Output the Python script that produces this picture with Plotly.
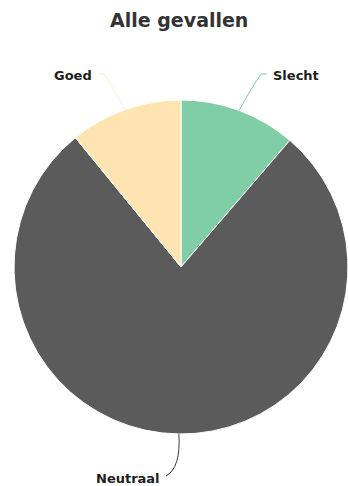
import math
import plotly.graph_objects as go

# Share of cases per outcome (percent), clockwise from 12 o'clock
labels = ["Slecht", "Neutraal", "Goed"]
values = [11.3, 77.8, 10.9]
colors = ["#7fcea5", "#5b5b5b", "#fde4b0"]

W, H = 348, 486
CX, CY, R = 181, 267, 167  # pie centre and radius in pixels

# Label placement (pixels): text anchor and the side the text sits on
label_pos = {
    "Slecht": (271, 75, "left"),
    "Neutraal": (162, 478, "right"),
    "Goed": (94, 75, "right"),
}


def px(x):
    return x / W


def py(y):
    return 1 - y / H


fig = go.Figure(
    go.Pie(
        labels=labels,
        values=values,
        sort=False,
        direction="clockwise",
        rotation=0,
        marker=dict(colors=colors, line=dict(color="white", width=1)),
        textinfo="none",
        hoverinfo="label+percent",
        domain=dict(x=[px(CX - R), px(CX + R)], y=[py(CY + R), py(CY - R)]),
        showlegend=False,
    )
)

shapes = []
annotations = []
total = sum(values)
start = 0.0
for lab, val, col in zip(labels, values, colors):
    mid = (start + val / 2) / total * 2 * math.pi
    start += val
    ex = CX + R * math.sin(mid)
    ey = CY - R * math.cos(mid)
    lx, ly, side = label_pos[lab]
    sx = lx - 4 if side == "left" else lx + 4
    if ly < CY:
        # short kink next to the label, then a gentle curve down to the slice
        sy = ly - 1
        kx = sx - 6 if side == "left" else sx + 6
        qx = kx + (ex - kx) * 0.35
        qy = sy + (ey - sy) * 0.3
        path = (f"M {px(sx)} {py(sy)} L {px(kx)} {py(sy)} "
                f"Q {px(qx)} {py(qy)} {px(ex)} {py(ey)}")
        opacity = 0.55 if lab == "Goed" else 1.0
    else:
        sy = ly - 2
        qx = ex + 2
        qy = sy - 8
        path = f"M {px(sx)} {py(sy)} Q {px(qx)} {py(qy)} {px(ex)} {py(ey)}"
        opacity = 1.0
    line_col = "#3a3a3a" if lab == "Neutraal" else col
    shapes.append(dict(type="path", path=path, xref="paper", yref="paper",
                       opacity=opacity, line=dict(color=line_col, width=1)))
    annotations.append(dict(
        text=f"<b>{lab}</b>", x=px(lx), y=py(ly), xref="paper", yref="paper",
        xanchor=side, yanchor="middle", showarrow=False,
        font=dict(family="DejaVu Sans", size=13, color="#1e1e1e"),
    ))

fig.update_layout(
    width=W,
    height=H,
    margin=dict(l=0, r=0, t=0, b=0),
    paper_bgcolor="white",
    plot_bgcolor="white",
    title=dict(text="<b>Alle gevallen</b>", x=0.515, xanchor="center",
               y=py(20), yanchor="middle",
               font=dict(family="DejaVu Sans", size=19, color="#333333")),
    shapes=shapes,
    annotations=annotations,
)

fig.write_html("out.html")
